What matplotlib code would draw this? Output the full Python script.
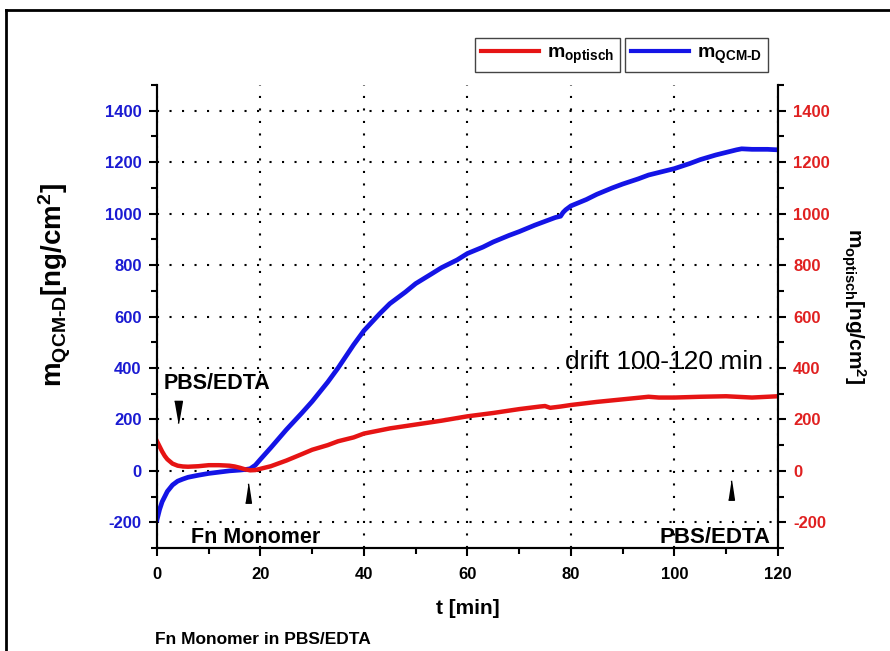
import matplotlib
matplotlib.use("Agg")
import matplotlib.pyplot as plt
from matplotlib.lines import Line2D
from matplotlib.ticker import MultipleLocator

plt.rcParams['font.family'] = ['Liberation Sans', 'DejaVu Sans']
plt.rcParams['mathtext.fontset'] = 'custom'
plt.rcParams['mathtext.rm'] = 'Liberation Sans:bold'
plt.rcParams['mathtext.bf'] = 'Liberation Sans:bold'
plt.rcParams['axes.unicode_minus'] = False

# QCM-D Masse (blau, linke Achse)
t_qcm = [0, 0.5, 1, 2, 3, 4, 5, 6, 8, 10, 12, 14, 16, 17, 18, 19, 20, 22, 25, 28,
         30, 33, 35, 38, 40, 43, 45, 48, 50, 53, 55, 58, 60, 63, 65, 68, 70, 73,
         75, 77, 78, 78.5, 79, 80, 83, 85, 88, 90, 93, 95, 98, 100, 103, 105, 108,
         110, 112, 113, 115, 118, 120]
m_qcm = [-190, -150, -120, -80, -55, -40, -32, -25, -17, -10, -5, 0, 3, 5, 8, 22, 45,
         90, 160, 225, 270, 345, 400, 490, 545, 610, 650, 695, 728, 765, 790, 820,
         845, 870, 890, 915, 930, 955, 970, 985, 990, 1005, 1015, 1030, 1055, 1075,
         1100, 1115, 1135, 1150, 1165, 1175, 1195, 1210, 1228, 1238, 1248, 1252,
         1250, 1250, 1248]

# optische Masse (rot, rechte Achse)
t_opt = [0, 0.5, 1, 1.5, 2, 3, 4, 5, 6, 8, 10, 12, 14, 15, 16, 17, 18, 19, 20, 22,
         25, 28, 30, 33, 35, 38, 40, 45, 50, 55, 60, 65, 70, 74, 75, 76, 78, 80, 85,
         90, 95, 97, 100, 105, 110, 115, 120]
m_opt = [115, 95, 75, 58, 45, 28, 20, 17, 16, 18, 22, 22, 20, 17, 12, 6, 2, 3, 8,
         18, 40, 65, 82, 100, 115, 130, 145, 165, 180, 195, 212, 225, 240, 250, 252,
         245, 250, 256, 268, 278, 288, 285, 285, 288, 290, 285, 290]

blue = '#1414e6'
red = '#e61414'

fig = plt.figure(figsize=(8.9, 6.51), dpi=100)
ax = fig.add_axes([0.1764, 0.1582, 0.874 - 0.1764, 0.8694 - 0.1582])
ax2 = ax.twinx()

ax.plot(t_qcm, m_qcm, color=blue, lw=3.4, zorder=3)
ax.plot(t_opt, m_opt, color=red, lw=3.2, zorder=4)

for a in (ax, ax2):
    a.set_xlim(0, 120)
    a.set_ylim(-300, 1500)
    a.spines['top'].set_visible(False)
    for s in ('left', 'right', 'bottom'):
        a.spines[s].set_linewidth(1.5)
    a.set_yticks(range(-200, 1401, 200))
    a.yaxis.set_minor_locator(MultipleLocator(100))
    a.tick_params(which='both', direction='out', width=1.5)
    a.tick_params(which='major', length=6, labelsize=12, pad=5)
    a.tick_params(which='minor', length=4)

ax.xaxis.set_major_locator(MultipleLocator(20))
ax.xaxis.set_minor_locator(MultipleLocator(10))
ax.tick_params(axis='x', which='major', pad=8)
ax.tick_params(axis='y', labelcolor='#1a1ad2')
ax2.tick_params(axis='y', labelcolor='#e02020')
for lab in ax.get_xticklabels() + ax.get_yticklabels() + ax2.get_yticklabels():
    lab.set_fontweight('bold')

ax.grid(True, which='major', color='black', linestyle=(0, (1, 5)), lw=1.5)

ax.set_xlabel('t [min]', fontsize=15, fontweight='bold', labelpad=12)
ax.set_ylabel(r'$\mathbf{m}_{\mathbf{QCM\text{-}D}}\mathbf{[ng/cm^2]}$', fontsize=20,
              va='center')
ax.yaxis.set_label_coords(-0.164, 0.568)
ax2.set_ylabel(r'$\mathbf{m}_{\mathbf{optisch}}\mathbf{[ng/cm^2]}$', fontsize=15,
               rotation=-90, va='center')
ax2.yaxis.set_label_coords(1.121, 0.523)

# Pfeilmarken
up = [(-0.3, -1), (0.3, -1), (0, 1)]
down = [(-0.35, 1), (0.35, 1), (0, -1)]
ax.plot([4], [230], marker=down, markersize=16, color='black', ls='none', zorder=5)
ax.plot([17.5], [-85], marker=up, markersize=14, color='black', ls='none', zorder=5)
ax.plot([111], [-75], marker=up, markersize=14, color='black', ls='none', zorder=5)

ax.text(1.2, 340, 'PBS/EDTA', fontsize=15.5, fontweight='bold', va='center')
ax.text(19, -260, 'Fn Monomer', fontsize=15.5, fontweight='bold', ha='center', va='center')
ax.text(118.5, -260, 'PBS/EDTA', fontsize=16, fontweight='bold', ha='right', va='center')
ax.text(117.1, 425, 'drift 100-120 min', fontsize=19, ha='right', va='center')

# zwei getrennte Legendenkästen
h_opt = Line2D([], [], color=red, lw=3)
h_qcm = Line2D([], [], color=blue, lw=3)
leg_kw = dict(loc='upper left', bbox_transform=fig.transFigure, fancybox=False,
              edgecolor='#444444', framealpha=1, fontsize=14, borderaxespad=0,
              borderpad=0.3, handlelength=3.0, handletextpad=0.4)
leg1 = fig.legend([h_opt], [r'$\mathbf{m}_{\mathbf{optisch}}$'],
                  bbox_to_anchor=(0.534, 0.9416), **leg_kw)
leg1.get_frame().set_linewidth(1)
leg2 = fig.legend([h_qcm], [r'$\mathbf{m}_{\mathbf{QCM\text{-}D}}$'],
                  bbox_to_anchor=(0.702, 0.9416), **leg_kw)
leg2.get_frame().set_linewidth(1)

fig.text(0.174, 0.017, 'Fn Monomer in PBS/EDTA', fontsize=12.5, fontweight='bold',
         va='center')

# äußerer Rahmen (oben und links sichtbar)
fig.add_artist(Line2D([0.0067, 1], [0.9846, 0.9846], transform=fig.transFigure,
                      color='black', lw=2))
fig.add_artist(Line2D([0.0067, 0.0067], [0, 0.9846], transform=fig.transFigure,
                      color='black', lw=2))

fig.savefig('out.png', dpi=100)
